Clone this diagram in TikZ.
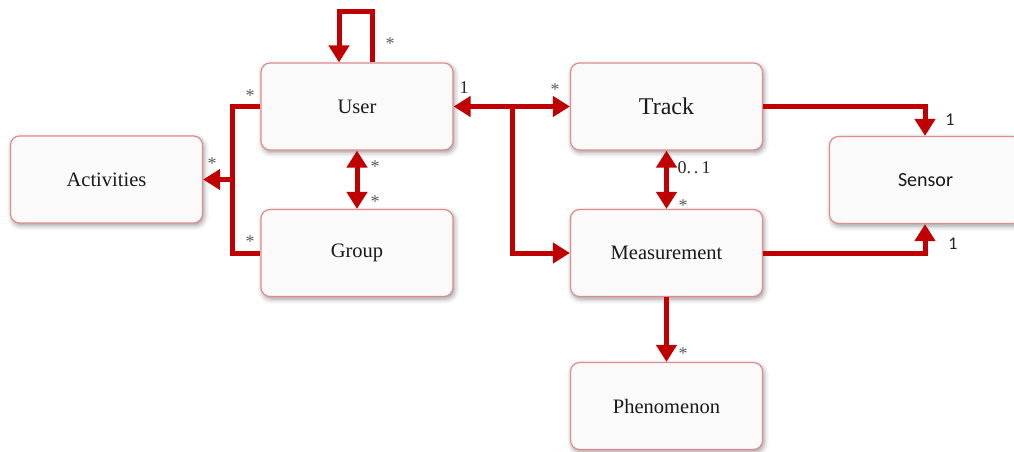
\documentclass[tikz,border=0pt]{standalone}
\usepackage{fontspec}
\setmainfont{Liberation Serif}
\newfontfamily\sensorfont{Carlito}
\usetikzlibrary{arrows.meta,shadows.blur,calc}
\definecolor{lnk}{HTML}{C00000}
\definecolor{bord}{HTML}{E08C8C}
\definecolor{boxfill}{HTML}{FAFAFA}
\begin{document}
\begin{tikzpicture}[x=1pt,y=-1pt,
 box/.style={draw=bord,line width=1.2pt,fill=boxfill,rounded corners=9pt,minimum width=192pt,minimum height=87pt,inner sep=0pt,
   font=\fontsize{20.5}{24}\selectfont,text=black!90,
   blur shadow={shadow xshift=1.5pt,shadow yshift=-2.5pt,shadow blur radius=5pt,shadow opacity=40}},
 link/.style={draw=lnk,line width=5pt},
 tip/.style={-{Triangle[width=20pt,length=17pt]}},
 both/.style={{Triangle[width=20pt,length=17pt]}-{Triangle[width=20pt,length=17pt]}},
 mult/.style={font=\fontsize{18}{20}\selectfont,text=black!65,inner sep=0pt},
 num/.style={font=\fontsize{18}{20}\selectfont,text=black!85,inner sep=0pt}]
\useasboundingbox (0,0) rectangle (1014,452);

\node[box] (user) at (357,106.5) {User};
\node[box] (group) at (357,253) {Group};
\node[box] (act) at (106.5,179.5) {Activities};
\node[box,font=\fontsize{24}{28}\selectfont] (track) at (666.5,106.5) {Track};
\node[box] (meas) at (666.5,253) {Measurement};
\node[box,font=\sensorfont\fontsize{20}{24}\selectfont] (sensor) at (925.5,180) {Sensor};
\node[box] (phen) at (666.5,406) {Phenomenon};

% self loop on User
\coordinate (l1) at (372,12);
\coordinate (l2) at (339,12);
\draw[link,tip] (user.north -| l1) -- (l1) -- (l2) -- (user.north -| l2);

% User / Group / Activities
\coordinate (j1) at (232,0);
\draw[link] (user.west) -| (j1 |- group.west) -- (group.west);
\draw[link,tip] (j1 |- act.east) -- (act.east);
\draw[link,both] (user.south) -- (group.north);

% User / Track / Measurement
\draw[link,both] (user.east) -- (track.west);
\coordinate (j2) at (512,106.5);
\draw[link,tip] (j2) |- (meas.west);
\draw[link,both] (track.south) -- (meas.north);

% Sensor
\coordinate (j3) at (925,0);
\draw[link,tip] (track.east) -| (j3 |- sensor.north);
\draw[link,tip] (meas.east) -| (j3 |- sensor.south);

% Phenomenon
\draw[link,tip] (meas.south) -- (phen.north);

% multiplicities
\node[mult] (m1) at (390,44) {*};
\node[mult] (m2) at (250,96) {*};
\node[mult] (m3) at (212,164) {*};
\node[mult] (m4) at (250,242) {*};
\node[mult] (m5) at (375,167) {*};
\node[mult] (m6) at (375,202) {*};
\node[mult] (m7) at (555,90) {*};
\node[mult] (m8) at (683,206) {*};
\node[mult] (m9) at (683,354) {*};
\node[num] (n1) at (464,88) {1};
\node[num] (n2) at (694,168) {0.\,.\,1};
\node[num,font=\sensorfont\fontsize{18}{20}\selectfont] (n3) at (950,120) {1};
\node[num,font=\sensorfont\fontsize{18}{20}\selectfont] (n4) at (953,244) {1};
\end{tikzpicture}
\end{document}
